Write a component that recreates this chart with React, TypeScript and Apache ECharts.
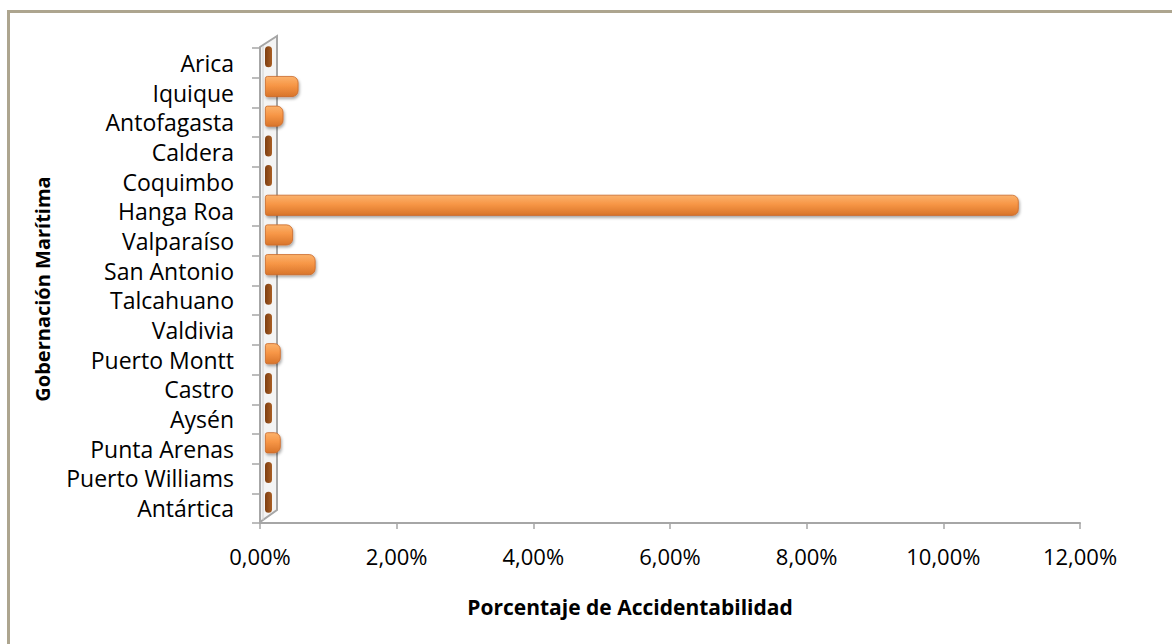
import React, { useEffect, useRef } from "react";
import * as echarts from "echarts";

const categories = [
  "Arica",
  "Iquique",
  "Antofagasta",
  "Caldera",
  "Coquimbo",
  "Hanga Roa",
  "Valparaíso",
  "San Antonio",
  "Talcahuano",
  "Valdivia",
  "Puerto Montt",
  "Castro",
  "Aysén",
  "Punta Arenas",
  "Puerto Williams",
  "Antártica",
];
const values = [0, 0.49, 0.27, 0, 0, 11.03, 0.41, 0.74, 0, 0, 0.23, 0, 0, 0.23, 0, 0];
const xMin = 0;
const xMax = 12;
const xInterval = 2;
const xTitle = "Porcentaje de Accidentabilidad";
const yTitle = "Gobernación Marítima";

const FONT = "'Open Sans', sans-serif";

const fmt = (v: number) => v.toFixed(2).replace(".", ",") + "%";

export default function App() {
  const ref = useRef<HTMLDivElement>(null);
  useEffect(() => {
    if (!ref.current) return;
    const chart = echarts.init(ref.current, null, { renderer: "svg" });
    const orange = new echarts.graphic.LinearGradient(0, 0, 0, 1, [
      { offset: 0, color: "#FBB26C" },
      { offset: 0.45, color: "#F79646" },
      { offset: 1, color: "#D8742A" },
    ]);
    const brown = new echarts.graphic.LinearGradient(0, 0, 1, 0, [
      { offset: 0, color: "#7E3F12" },
      { offset: 1, color: "#A85E24" },
    ]);
    chart.setOption({
      animation: false,
      backgroundColor: "#ffffff",
      grid: [
        { left: 260, right: 92, top: 48, bottom: 121 },
        { left: 265, right: 87, top: 42, bottom: 127 },
      ],
      xAxis: [
        {
          type: "value",
          gridIndex: 0,
          min: xMin,
          max: xMax,
          interval: xInterval,
          splitLine: { show: false },
          axisLine: { show: true, lineStyle: { color: "#A6A6A6", width: 2 } },
          axisTick: { show: true, length: 6, lineStyle: { color: "#A6A6A6", width: 1.5 } },
          axisLabel: {
            formatter: fmt,
            color: "#000",
            fontFamily: FONT,
            fontSize: 22,
            margin: 22,
          },
        },
        {
          type: "value",
          gridIndex: 1,
          min: xMin,
          max: xMax,
          interval: xInterval,
          show: false,
        },
      ],
      yAxis: [
        {
          type: "category",
          gridIndex: 0,
          data: categories,
          inverse: true,
          axisLine: { show: true, lineStyle: { color: "#A6A6A6", width: 2 } },
          axisTick: { show: true, length: 8, interval: 0, lineStyle: { color: "#A6A6A6", width: 1.5 } },
          axisLabel: {
            interval: 0,
            color: "#000",
            fontFamily: FONT,
            fontSize: 23,
            margin: 26,
            padding: [5, 0, 0, 0],
          },
        },
        {
          type: "category",
          gridIndex: 1,
          data: categories,
          inverse: true,
          show: false,
        },
      ],
      graphic: [
        {
          type: "polygon",
          z: 0,
          shape: {
            points: [
              [260, 522],
              [260, 47],
              [277, 36],
              [277, 510],
            ],
          },
          style: { fill: "#F4F4F4", stroke: "#A6A6A6", lineWidth: 2 },
        },
        {
          type: "line",
          shape: { x1: 263, y1: 520, x2: 263, y2: 46 },
          style: { stroke: "#D0D0D0", lineWidth: 1 },
        },
        {
          type: "line",
          shape: { x1: 8, y1: 11.5, x2: 1172, y2: 11.5 },
          style: { stroke: "#ADA58F", lineWidth: 3 },
        },
        {
          type: "line",
          shape: { x1: 8.5, y1: 10, x2: 8.5, y2: 644 },
          style: { stroke: "#ADA58F", lineWidth: 3 },
        },
        {
          type: "text",
          x: 630,
          y: 607,
          style: {
            text: xTitle,
            fontFamily: FONT,
            fontSize: 21,
            fontWeight: "bold",
            fill: "#000",
            align: "center",
            verticalAlign: "middle",
          },
        },
        {
          type: "text",
          x: 42,
          y: 289,
          rotation: Math.PI / 2,
          style: {
            text: yTitle,
            fontFamily: FONT,
            fontSize: 20,
            fontWeight: "bold",
            fill: "#000",
            align: "center",
            verticalAlign: "middle",
          },
        },
      ],
      series: [
        {
          type: "bar",
          xAxisIndex: 1,
          yAxisIndex: 1,
          barWidth: 21,
          barMinHeight: 7,
          z: 3,
          data: values.map((v) => ({
            value: v,
            itemStyle:
              v === 0
                ? { color: brown, borderRadius: 4 }
                : {
                    color: orange,
                    borderRadius: [2, 6, 6, 2],
                    borderColor: "#C9682A",
                    borderWidth: 0.8,
                    shadowColor: "rgba(0,0,0,0.35)",
                    shadowBlur: 3,
                    shadowOffsetX: 1,
                    shadowOffsetY: 2,
                  },
          })),
        },
      ],
    });
    return () => chart.dispose();
  }, []);
  return (
    <div
      ref={ref}
      style={{ position: "fixed", left: 0, top: 0, width: 1172, height: 644 }}
    />
  );
}
